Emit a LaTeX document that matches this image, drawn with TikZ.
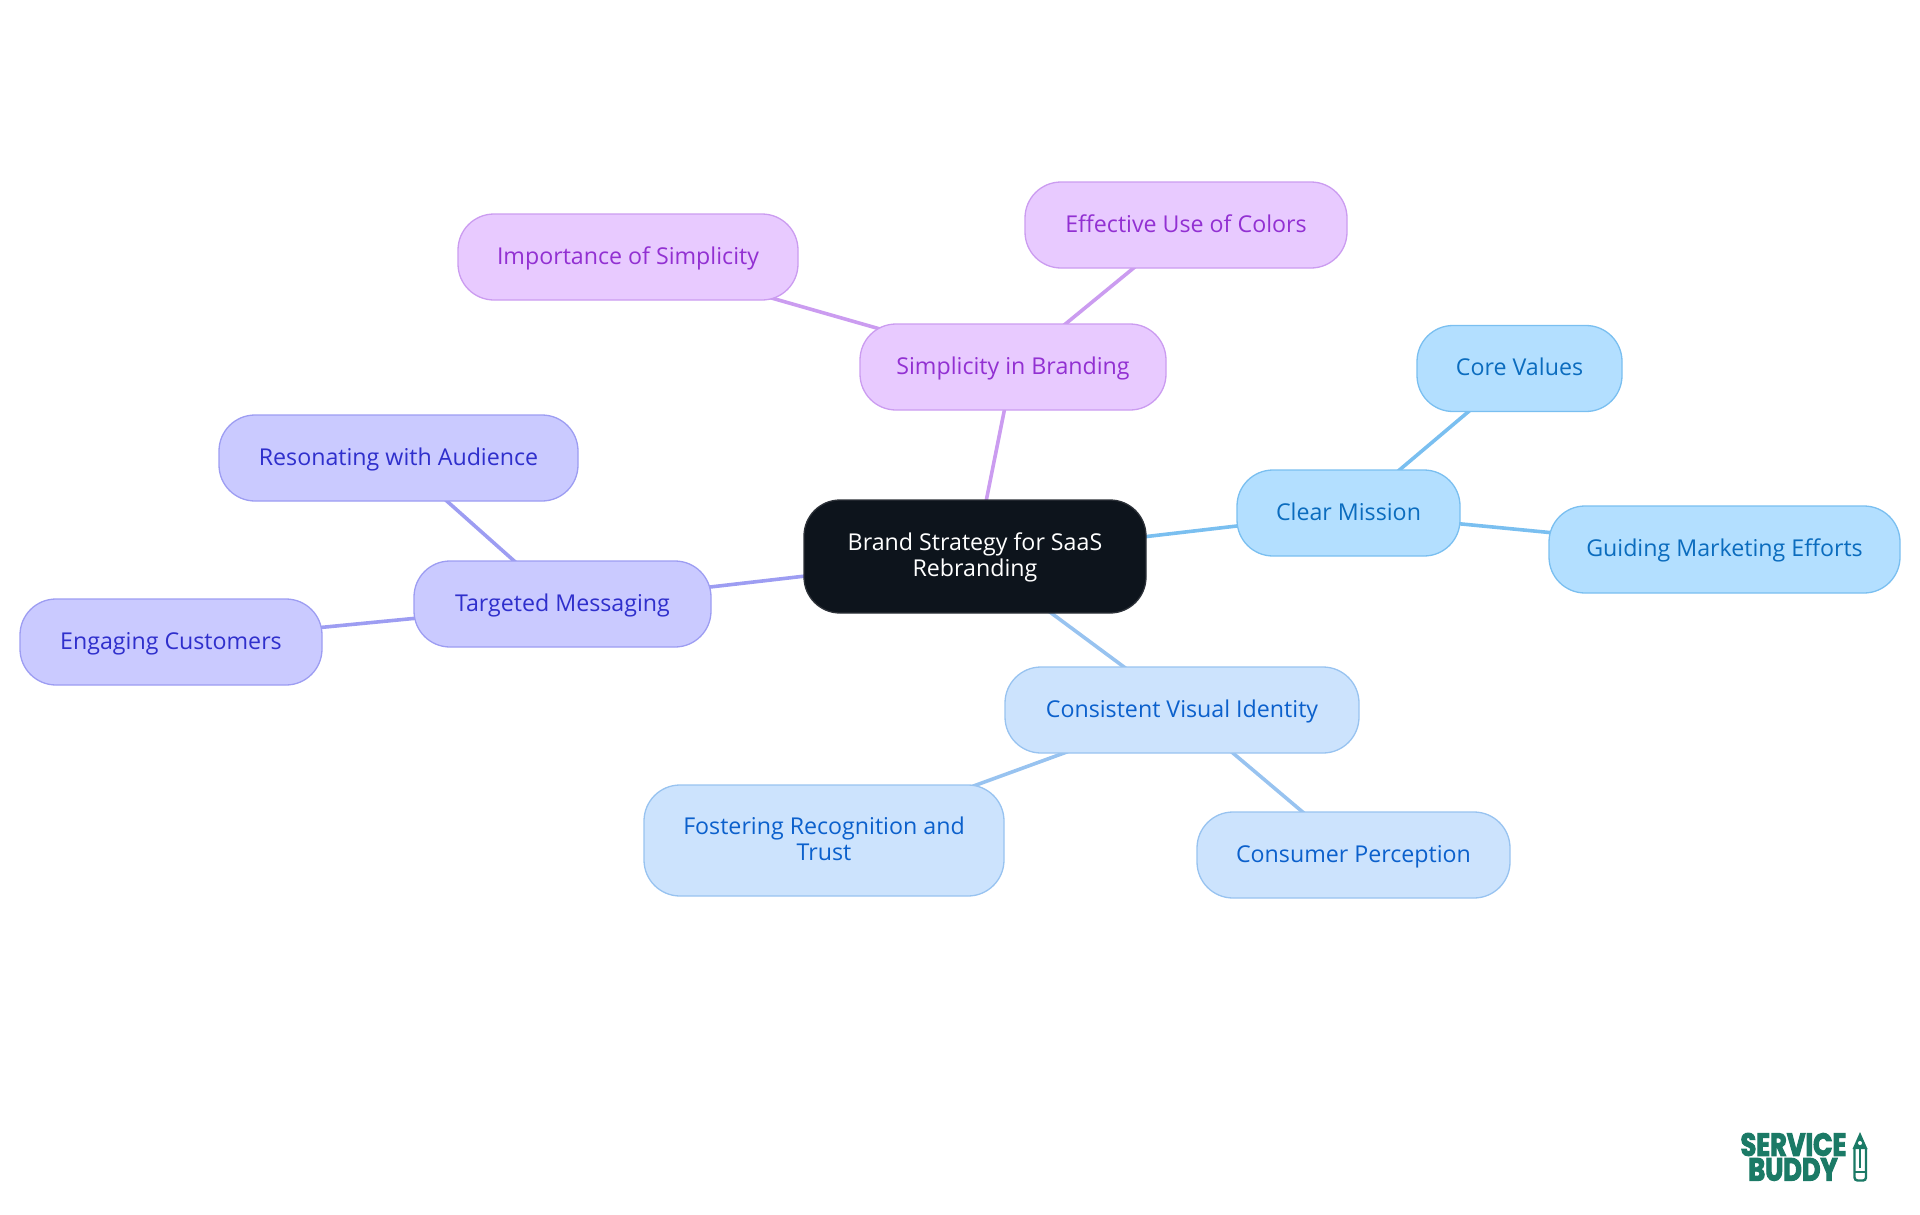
\documentclass[tikz,border=0pt]{standalone}
\usepackage{fontspec}
\setmainfont{Open Sans}
\newfontfamily\logofont[FakeBold=3,FakeStretch=0.8]{Poppins}
\usetikzlibrary{backgrounds}

\definecolor{rootfill}{HTML}{0D141C}
\definecolor{rootline}{HTML}{2C3138}
\definecolor{skyfill}{HTML}{B3DFFF}
\definecolor{skyline}{HTML}{7ABFF0}
\definecolor{skytext}{HTML}{0B6CBE}
\definecolor{palefill}{HTML}{CCE3FD}
\definecolor{paleline}{HTML}{98C3F0}
\definecolor{paletext}{HTML}{0B60CC}
\definecolor{indigofill}{HTML}{CACAFF}
\definecolor{indigoline}{HTML}{9D9DF2}
\definecolor{indigotext}{HTML}{2F2FCC}
\definecolor{lilacfill}{HTML}{E8CAFF}
\definecolor{lilacline}{HTML}{CB9CF0}
\definecolor{lilactext}{HTML}{9230D2}
\definecolor{logogreen}{HTML}{1B7A66}

\newcommand{\boxstrut}{\rule[-6pt]{0pt}{26pt}}

\tikzset{
  x=1pt, y=-1pt,
  mapnode/.style={draw, line width=1.3pt, rounded corners=36pt, inner sep=0pt, align=center,
    font=\fontsize{23.2}{26}\selectfont},
  rootnode/.style={mapnode, fill=rootfill, draw=rootline, text=white},
  skynode/.style={mapnode, fill=skyfill, draw=skyline, text=skytext},
  palenode/.style={mapnode, fill=palefill, draw=paleline, text=paletext},
  indigonode/.style={mapnode, fill=indigofill, draw=indigoline, text=indigotext},
  lilacnode/.style={mapnode, fill=lilacfill, draw=lilacline, text=lilactext},
  skyedge/.style={draw=skyline, line width=3.6pt},
  paleedge/.style={draw=paleline, line width=3.6pt},
  indigoedge/.style={draw=indigoline, line width=3.6pt},
  lilacedge/.style={draw=lilacline, line width=3.6pt},
  logotext/.style={text=logogreen, inner sep=0pt, font=\fontsize{32}{32}\logofont\bfseries}
}

\begin{document}
\begin{tikzpicture}
  \useasboundingbox (0, 0) rectangle (1920, 1215);

  \node[rootnode, minimum width=342, minimum height=113] (root) at (975, 556.5) {\boxstrut Brand Strategy for SaaS\\\boxstrut Rebranding};

  \node[skynode, minimum width=223, minimum height=86] (mission) at (1348.5, 513) {\boxstrut Clear Mission};
  \node[skynode, minimum width=205, minimum height=86] (values) at (1519.5, 368.5) {\boxstrut Core Values};
  \node[skynode, minimum width=351, minimum height=87] (guiding) at (1724.5, 549.5) {\boxstrut Guiding Marketing Efforts};

  \node[palenode, minimum width=354, minimum height=86] (visual) at (1182, 710) {\boxstrut Consistent Visual Identity};
  \node[palenode, minimum width=360, minimum height=111] (trust) at (824, 840.5) {\boxstrut Fostering Recognition and\\\boxstrut Trust};
  \node[palenode, minimum width=313, minimum height=86] (perception) at (1353.5, 855) {\boxstrut Consumer Perception};

  \node[indigonode, minimum width=297, minimum height=86] (messaging) at (562.5, 604) {\boxstrut Targeted Messaging};
  \node[indigonode, minimum width=359, minimum height=86] (audience) at (398.5, 458) {\boxstrut Resonating with Audience};
  \node[indigonode, minimum width=302, minimum height=86] (customers) at (171, 642) {\boxstrut Engaging Customers};

  \node[lilacnode, minimum width=306, minimum height=86] (branding) at (1013, 367) {\boxstrut Simplicity in Branding};
  \node[lilacnode, minimum width=340, minimum height=86] (importance) at (628, 257) {\boxstrut Importance of Simplicity};
  \node[lilacnode, minimum width=322, minimum height=86] (colors) at (1186, 225) {\boxstrut Effective Use of Colors};

  % the connectors run centre to centre, behind the boxes
  \begin{scope}[on background layer]
    \draw[skyedge] (root.center) -- (mission.center);
    \draw[skyedge] (mission.center) -- (values.center);
    \draw[skyedge] (mission.center) -- (guiding.center);
    \draw[paleedge] (root.center) -- (visual.center);
    \draw[paleedge] (visual.center) -- (trust.center);
    \draw[paleedge] (visual.center) -- (perception.center);
    \draw[indigoedge] (root.center) -- (messaging.center);
    \draw[indigoedge] (messaging.center) -- (audience.center);
    \draw[indigoedge] (messaging.center) -- (customers.center);
    \draw[lilacedge] (root.center) -- (branding.center);
    \draw[lilacedge] (branding.center) -- (importance.center);
    \draw[lilacedge] (branding.center) -- (colors.center);
  \end{scope}

  % logo
  \node[logotext] (service) at (1793.5, 1144.5) {SERVICE};
  \node[logotext] (buddy) at (1793, 1169.5) {BUDDY};
  \draw[logogreen, line width=2.4pt, rounded corners=3pt] (1854.5, 1148) -- (1854.5, 1180.5) -- (1866, 1180.5) -- (1866, 1148);
  \fill[logogreen] (1860, 1132) -- (1867.5, 1149) -- (1852.5, 1149) -- cycle;
  \fill[white] (1860, 1143) circle (2pt);
  \draw[logogreen, line width=1.8pt] (1860, 1149) -- (1860, 1168);
  \draw[logogreen, line width=1.5pt] (1854.5, 1172) -- (1866, 1172);
\end{tikzpicture}
\end{document}
